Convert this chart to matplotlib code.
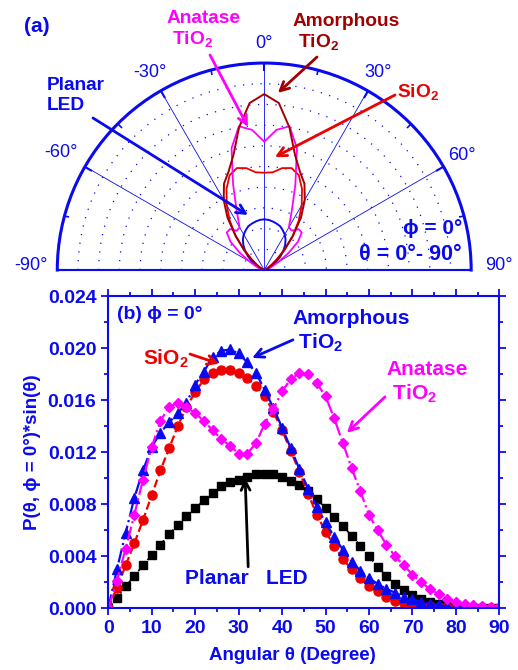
import numpy as np
import matplotlib.pyplot as plt
from matplotlib.ticker import MultipleLocator, FixedLocator

plt.rcParams['font.family'] = ['Liberation Sans', 'DejaVu Sans']
plt.rcParams['mathtext.fontset'] = 'custom'
plt.rcParams['mathtext.rm'] = 'Liberation Sans'
plt.rcParams['mathtext.bf'] = 'Liberation Sans:bold'
plt.rcParams['mathtext.default'] = 'bf'

BLUE = '#0a0af0'
RED = '#ee0000'
DARKRED = '#a00000'
MAGENTA = '#ff00ff'

# ---- (a) polar intensity P(theta), phi = 0 ----
polar_angle = [0, 5, 10, 15, 20, 25, 30, 35, 40, 45, 50, 55, 60, 65, 70, 75, 80, 85, 90]
planar_p = [0.0245, 0.0243, 0.0238, 0.0232, 0.0225, 0.0212, 0.0198, 0.0180, 0.0157, 0.0130,
            0.0102, 0.0073, 0.0047, 0.0027, 0.0012, 0.0005, 0.0002, 0.0001, 0.0]
sio2_p = [0.0470, 0.0474, 0.0500, 0.0510, 0.0488, 0.0432, 0.0362, 0.0290, 0.0213, 0.0137,
          0.0077, 0.0041, 0.0019, 0.0009, 0.0004, 0.0002, 0.0001, 0.00003, 0.0]
amorph_p = [0.0850, 0.0810, 0.0700, 0.0575, 0.0505, 0.0460, 0.0392, 0.0310, 0.0216, 0.0141,
            0.0086, 0.0049, 0.0027, 0.0014, 0.0007, 0.0003, 0.0001, 0.00005, 0.0]
anatase_p = [0.0620, 0.0680, 0.0705, 0.0610, 0.0440, 0.0315, 0.0238, 0.0232, 0.0258, 0.0256,
             0.0213, 0.0143, 0.0083, 0.0047, 0.0028, 0.0014, 0.0005, 0.0002, 0.0]
polar_ticks = [-90, -60, -30, 0, 30, 60, 90]
polar_labels = ['-90°', '-60°', '-30°', '0°', '30°', '60°', '90°']

# ---- (b) P(theta, phi=0)*sin(theta) ----
angle_b = list(range(0, 91, 2))
planar_b = [0.0, 0.0008, 0.0017, 0.0025, 0.0033, 0.0041, 0.0049, 0.0057, 0.0064, 0.0071,
            0.0077, 0.0083, 0.0089, 0.0094, 0.0097, 0.0099, 0.0101, 0.0103, 0.0103, 0.0103,
            0.0101, 0.0098, 0.0095, 0.0090, 0.0084, 0.0077, 0.0070, 0.0063, 0.0056, 0.0048,
            0.0040, 0.0032, 0.0025, 0.0019, 0.0014, 0.0010, 0.0007, 0.0005, 0.0003, 0.0002,
            0.00012, 0.00007, 0.00004, 0.00002, 0.00001, 0.0]
sio2_b = [0.0, 0.0016, 0.0033, 0.0050, 0.0068, 0.0087, 0.0106, 0.0123, 0.0140, 0.0155,
          0.0166, 0.0176, 0.0181, 0.0183, 0.0183, 0.0181, 0.0177, 0.0171, 0.0163, 0.0151,
          0.0137, 0.0121, 0.0105, 0.0088, 0.0072, 0.0059, 0.0048, 0.0038, 0.0030, 0.0023,
          0.0017, 0.0013, 0.0009, 0.0006, 0.0004, 0.0003, 0.0002, 0.00015, 0.0001, 0.00007,
          0.00005, 0.00003, 0.00002, 0.00001, 0.0, 0.0]
amorph_b = [0.0, 0.0030, 0.0058, 0.0085, 0.0106, 0.0124, 0.0135, 0.0143, 0.0150, 0.0158,
            0.0172, 0.0182, 0.0193, 0.0198, 0.0199, 0.0196, 0.0189, 0.0181, 0.0168, 0.0154,
            0.0139, 0.0123, 0.0107, 0.0092, 0.0078, 0.0066, 0.0055, 0.0045, 0.0036, 0.0029,
            0.0023, 0.0019, 0.0015, 0.0012, 0.0009, 0.0007, 0.0005, 0.00035, 0.00025, 0.00015,
            0.0001, 0.00006, 0.00004, 0.00002, 0.00001, 0.0]
anatase_b = [0.0, 0.0021, 0.0046, 0.0072, 0.0099, 0.0124, 0.0144, 0.0155, 0.0158, 0.0155,
             0.0150, 0.0144, 0.0137, 0.0130, 0.0125, 0.0119, 0.0119, 0.0127, 0.0142, 0.0153,
             0.0167, 0.0176, 0.0181, 0.0180, 0.0173, 0.0163, 0.0146, 0.0127, 0.0108, 0.0090,
             0.0072, 0.0060, 0.0049, 0.0040, 0.0033, 0.0026, 0.0020, 0.0015, 0.0011, 0.0007,
             0.0005, 0.00032, 0.00022, 0.00015, 0.0001, 0.00008]

fig = plt.figure(figsize=(5.18, 6.70), dpi=100)

# ---------------- polar panel ----------------
# square box: the half-disc is fitted to its width and centred vertically
axp = fig.add_axes([0.1106, 0.4425, 0.799, 0.6179], projection='polar')
axp.set_theta_zero_location('N')
axp.set_theta_direction(-1)
axp.set_thetamin(-90)
axp.set_thetamax(90)
axp.set_rlim(0, 0.1)

# mirror the phi=0 cut to both sides of the normal
full_deg = [-a for a in polar_angle[::-1]] + polar_angle[1:]
full_theta = np.deg2rad(full_deg)
def mirror(vals):
    return vals[::-1] + vals[1:]

axp.plot(full_theta, mirror(planar_p), color=BLUE, lw=1.4)
axp.plot(full_theta, mirror(sio2_p), color=RED, lw=1.3)
axp.plot(full_theta, mirror(anatase_p), color=MAGENTA, lw=1.3)
axp.plot(full_theta, mirror(amorph_p), color=DARKRED, lw=1.4)

axp.set_thetagrids(polar_ticks, [''] * len(polar_ticks))
axp.xaxis.set_minor_locator(FixedLocator(np.deg2rad([-75, -45, -15, 15, 45, 75])))
# tick2 sits on the outer arc
axp.tick_params(axis='x', which='both', bottom=False, top=True, direction='in', color=BLUE)
axp.tick_params(axis='x', which='major', length=6, width=1.5)
axp.tick_params(axis='x', which='minor', length=4, width=1.2)
axp.set_rticks([0.01, 0.02, 0.03, 0.04, 0.05, 0.06, 0.07, 0.08, 0.09])
axp.set_yticklabels([])
axp.xaxis.grid(True, color=BLUE, lw=0.6, ls='-')
axp.yaxis.grid(True, color=BLUE, lw=0.9, ls=(0, (1, 6)))
axp.spines['polar'].set_color(BLUE)
axp.spines['polar'].set_linewidth(2.2)
for side in ['start', 'end']:
    axp.spines[side].set_color(BLUE)
    axp.spines[side].set_linewidth(1.5)

# angle labels just outside the arc
label_r = [0.1125, 0.1135, 0.1100, 0.1094, 0.1100, 0.1105, 0.1134]
for ang, lab, rr in zip(polar_ticks, polar_labels, label_r):
    a = max(min(ang, 89), -89)
    axp.text(np.deg2rad(a), rr, lab, color=BLUE, fontsize=13, ha='center', va='center')

ffp = lambda x, y: (x / 518, 1 - y / 670)
arrow = lambda c: dict(arrowstyle='->', color=c, lw=2, mutation_scale=16, shrinkA=0, shrinkB=0)

fig.text(*ffp(24, 26), '(a)', color=BLUE, fontsize=15, fontweight='bold', va='center')
fig.text(*ffp(167, 10), 'Anatase\n TiO$_2$', color=MAGENTA, fontsize=13.8, fontweight='bold',
         va='top', linespacing=1.15)
fig.text(*ffp(293, 13), 'Amorphous\n TiO$_2$', color=DARKRED, fontsize=13.8, fontweight='bold',
         va='top', linespacing=1.15)
fig.text(*ffp(397, 82), 'SiO$_2$', color=RED, fontsize=13.8, fontweight='bold', va='top')
fig.text(*ffp(47, 77), 'Planar\nLED', color=BLUE, fontsize=13.8, fontweight='bold', va='top',
         linespacing=1.25)
fig.text(*ffp(462, 229), 'ϕ = 0°', color=BLUE, fontsize=15, fontweight='bold', ha='right', va='center')
fig.text(*ffp(462, 255), 'θ = 0°- 90°', color=BLUE, fontsize=15.5, fontweight='bold', ha='right', va='center')

axp.annotate('', xy=(np.deg2rad(-6.5), 0.0696), xytext=ffp(210, 55), textcoords='figure fraction',
             arrowprops=arrow(MAGENTA))
axp.annotate('', xy=(np.deg2rad(4.4), 0.0858), xytext=ffp(317, 57), textcoords='figure fraction',
             arrowprops=arrow(DARKRED))
axp.annotate('', xy=(np.deg2rad(5.4), 0.0548), xytext=ffp(395, 95), textcoords='figure fraction',
             arrowprops=arrow(RED))
axp.annotate('', xy=(np.deg2rad(-16.5), 0.0277), xytext=ffp(93, 118), textcoords='figure fraction',
             arrowprops=arrow(BLUE))

# ---------------- cartesian panel ----------------
ax = fig.add_axes([0.209, 0.092, 0.755, 0.466])
ax.plot(angle_b, planar_b, color='black', ls=':', lw=1.3, marker='s', ms=5.5)
ax.plot(angle_b, sio2_b, color=RED, ls='--', lw=1.6, marker='o', ms=6.5)
ax.plot(angle_b, amorph_b, color=BLUE, ls='-.', lw=1.6, marker='^', ms=7)
ax.plot(angle_b, anatase_b, color=MAGENTA, ls='-.', lw=1.6, marker='D', ms=5.5)

ax.set_xlim(0, 90)
ax.set_ylim(0, 0.024)
ax.xaxis.set_major_locator(MultipleLocator(10))
ax.xaxis.set_minor_locator(MultipleLocator(5))
ax.yaxis.set_major_locator(MultipleLocator(0.004))
ax.yaxis.set_minor_locator(MultipleLocator(0.002))
ax.yaxis.set_major_formatter(plt.FuncFormatter(lambda v, p: f'{v:.3f}'))
ax.tick_params(which='both', direction='out', color=BLUE, width=1.3, top=True, right=True,
               labelcolor=BLUE, labelsize=14)
ax.tick_params(which='major', length=5)
ax.tick_params(which='minor', length=3)
for lab in ax.get_xticklabels() + ax.get_yticklabels():
    lab.set_fontweight('bold')
for s in ax.spines.values():
    s.set_color(BLUE)
    s.set_linewidth(1.5)

ax.set_xlabel('Angular θ (Degree)', color=BLUE, fontsize=13.5, fontweight='bold')
ax.xaxis.set_label_coords(0.47, -0.125)
ax.set_ylabel('P(θ, ϕ = 0°)*sin(θ)', color=BLUE, fontsize=13.5, fontweight='bold', labelpad=5)

ax.text(2, 0.0226, '(b) ϕ = 0°', color=BLUE, fontsize=14, fontweight='bold', va='center')
ax.text(8.0, 0.0192, 'SiO$_2$', color=RED, fontsize=15, fontweight='bold', va='center')
ax.text(42.5, 0.0230, 'Amorphous\n TiO$_2$', color=BLUE, fontsize=15, fontweight='bold',
        va='top', linespacing=1.2)
ax.text(64.1, 0.0191, 'Anatase\n TiO$_2$', color=MAGENTA, fontsize=15, fontweight='bold',
        va='top', linespacing=1.2)
ax.text(17.6, 0.0023, 'Planar   LED', color=BLUE, fontsize=15, fontweight='bold', va='center')

ax.annotate('', xy=(25.5, 0.0188), xytext=(18.8, 0.01955), arrowprops=arrow(RED))
ax.annotate('', xy=(33.1, 0.01925), xytext=(42.5, 0.02064), arrowprops=arrow(BLUE))
ax.annotate('', xy=(54.9, 0.01349), xytext=(63.7, 0.01626), arrowprops=arrow(MAGENTA))
ax.annotate('', xy=(31.5, 0.0100), xytext=(32.2, 0.0032), arrowprops=arrow('black'))

fig.savefig('out.png', dpi=100)
